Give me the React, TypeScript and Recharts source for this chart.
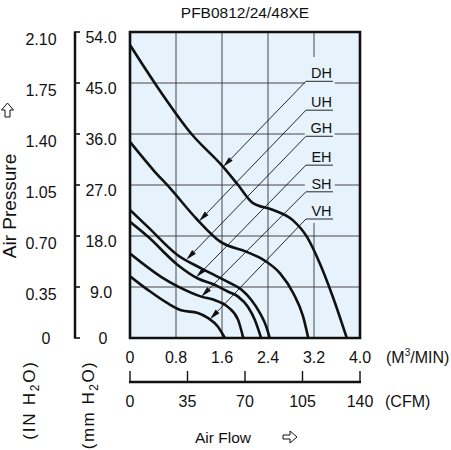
import React from 'react';
import { LineChart, Line, XAxis, YAxis, CartesianGrid, ReferenceArea, ReferenceLine } from 'recharts';

const FONT = '"Liberation Sans", Arial, sans-serif';
const INK = '#111';
const PLOT_BG = '#E7F3FC';

// air flow (m3/min) and static pressure (mm H2O)
const dhFlow = [0, 0.43, 1.07, 1.62, 1.88, 2.14, 2.49, 2.83, 3.08, 3.3, 3.53, 3.77];
const dhPress = [51.7, 45, 36, 30.2, 27, 23.8, 22.6, 20.8, 17.8, 13.2, 7.2, 0];
const uhFlow = [0, 0.41, 0.7, 1.16, 1.57, 2.03, 2.32, 2.61, 2.84, 3.01, 3.1];
const uhPress = [34.6, 29.6, 26.4, 21.0, 17.0, 15.2, 13.8, 11.4, 7.9, 3.8, 0];
const ghFlow = [0, 0.31, 0.83, 1.24, 1.47, 1.7, 1.94, 2.11, 2.26, 2.37, 2.43];
const ghPress = [22.6, 19.6, 14.6, 12.3, 11.1, 9.9, 8.5, 6.7, 4.4, 2.0, 0];
const ehFlow = [0, 0.31, 0.83, 1.18, 1.47, 1.7, 1.88, 2.05, 2.17, 2.28];
const ehPress = [20.5, 17.9, 12.9, 10.5, 9.4, 8.2, 7.3, 5.5, 3.2, 0];
const shFlow = [0, 0.54, 0.83, 1.24, 1.47, 1.7, 1.88, 1.97];
const shPress = [14.9, 10.8, 9.1, 7.3, 6.7, 5.5, 3.2, 0];
const vhFlow = [0, 0.31, 0.66, 0.89, 1.18, 1.36, 1.53, 1.65];
const vhPress = [10.9, 8.5, 6.1, 4.9, 4.4, 3.5, 2.0, 0];

// callouts: label, level of the label (mm H2O), where the arrow lands
const labels = ['DH', 'UH', 'GH', 'EH', 'SH', 'VH'];
const labelLevels = [45.3, 40.2, 35.6, 30.5, 25.8, 21.0];
const tipFlow = [1.62, 1.2, 0.98, 1.15, 1.24, 1.39];
const tipPress = [30.2, 20.6, 13.8, 10.7, 7.3, 3.3];
const labelFrom = 3.06;
const labelTo = 3.53;

const m3Ticks = [0, 0.8, 1.6, 2.4, 3.2, 4.0];
const cfmTicks = [0, 35, 70, 105, 140];
const mmTicks = [0, 9, 18, 27, 36, 45, 54];
const inTicks = [0, 0.35, 0.7, 1.05, 1.4, 1.75, 2.1];

const toPoints = (xs: number[], ys: number[]) => xs.map((x, i) => ({ x, y: ys[i] }));

const curves = [
  toPoints(dhFlow, dhPress),
  toPoints(uhFlow, uhPress),
  toPoints(ghFlow, ghPress),
  toPoints(ehFlow, ehPress),
  toPoints(shFlow, shPress),
  toPoints(vhFlow, vhPress),
];

const txt = { fontFamily: FONT, fill: INK } as const;

const InTick = ({ y, payload }: any) => {
  const v = payload.value;
  return (
    <text x={v === 0 ? 46 : 41} y={y + (v === 0 ? 0 : 7)} dy="0.36em" textAnchor="middle" fontSize={16} {...txt}>
      {v === 0 ? '0' : v.toFixed(2)}
    </text>
  );
};

const MmTick = ({ y, payload }: any) => {
  const v = payload.value;
  return (
    <g>
      <line x1={74} x2={80} y1={y} y2={y} stroke={INK} strokeWidth={1.6} />
      <text x={v === 0 ? 103 : 101} y={y + (v === 0 ? 0 : 5)} dy="0.36em" textAnchor="middle" fontSize={16} {...txt}>
        {v === 0 ? '0' : v.toFixed(1)}
      </text>
    </g>
  );
};

const M3Tick = ({ x, payload }: any) => {
  const v = payload.value;
  return (
    <text x={x} y={363} textAnchor="middle" fontSize={16} {...txt}>
      {v === 0 ? '0' : v.toFixed(1)}
    </text>
  );
};

// the CFM scale has its own baseline under the m3/min labels, ticks pointing up
const CfmTick = ({ x, payload, index, width }: any) => (
  <g>
    {index === 0 && typeof width === 'number' && width > 100 && width < 400 && (
      <line x1={x - 1} x2={x + width + 1} y1={382} y2={382} stroke={INK} strokeWidth={2.5} />
    )}
    <line x1={x} x2={x} y1={382} y2={371} stroke={INK} strokeWidth={1.4} />
    <text x={x} y={407} textAnchor="middle" fontSize={16} {...txt}>
      {payload.value}
    </text>
  </g>
);

const leaderShape = (p: any) => {
  const { x1, y1, x2, y2 } = p;
  const dx = x2 - x1;
  const dy = y2 - y1;
  const len = Math.hypot(dx, dy) || 1;
  const ux = dx / len;
  const uy = dy / len;
  const L = 11;
  const W = 2.6;
  const bx = x2 - ux * L;
  const by = y2 - uy * L;
  const pts = `${x2},${y2} ${bx - uy * W},${by + ux * W} ${bx + uy * W},${by - ux * W}`;
  return (
    <g>
      <line x1={x1} y1={y1} x2={bx} y2={by} stroke={INK} strokeWidth={0.9} />
      <polygon points={pts} fill={INK} />
    </g>
  );
};

const underlineShape = (name: string) => (p: any) => {
  const { x1, y1, x2 } = p;
  return (
    <g>
      <line x1={x1} y1={y1} x2={x2} y2={y1} stroke={INK} strokeWidth={0.9} />
      <text x={(x1 + x2) / 2 + 2} y={y1 - 3} textAnchor="middle" fontSize={14.5} {...txt}>
        {name}
      </text>
    </g>
  );
};

const Overlay = () => (
  <svg width={451} height={450} style={{ position: 'absolute', left: 0, top: 0, pointerEvents: 'none' }}>
    <text x={245} y={18} textAnchor="middle" fontSize={15.5} {...txt}>PFB0812/24/48XE</text>

    <polygon points="7.5,103 13.5,110 10,110 10,117 5,117 5,110 1.5,110" fill="#fff" stroke={INK} strokeWidth={1} />
    <text transform="translate(16,206) rotate(-90)" textAnchor="middle" fontSize={19} {...txt}>Air Pressure</text>

    <text transform="translate(35,400) rotate(-90)" textAnchor="middle" fontSize={17} letterSpacing={1.8} {...txt}>
      (IN H<tspan fontSize={12} dy={4}>2</tspan><tspan dy={-4}>O)</tspan>
    </text>
    <text transform="translate(94,405) rotate(-90)" textAnchor="middle" fontSize={17} letterSpacing={1.5} {...txt}>
      (mm H<tspan fontSize={12} dy={4}>2</tspan><tspan dy={-4}>O)</tspan>
    </text>

    <text x={386} y={363} fontSize={16} {...txt}>
      (M<tspan fontSize={10} dy={-7}>3</tspan><tspan dy={7}>/MIN)</tspan>
    </text>
    <text x={385} y={407} fontSize={16} {...txt}>(CFM)</text>

    <text x={223} y={443} textAnchor="middle" fontSize={15.5} {...txt}>Air Flow</text>
    <polygon points="283,435 290,435 290,431 297,437 290,443 290,439 283,439" fill="#fff" stroke={INK} strokeWidth={1} />
  </svg>
);

export default function App() {
  return (
    <div style={{ position: 'absolute', left: 0, top: 0, width: 451, height: 450, background: '#fff' }}>
      <LineChart width={451} height={450} margin={{ top: 32, right: 91, bottom: 0, left: 0 }}>
        <XAxis
          xAxisId="m3"
          type="number"
          dataKey="x"
          domain={[0, 4]}
          allowDataOverflow
          ticks={m3Ticks}
          interval={0}
          height={44}
          axisLine={false}
          tickLine={false}
          tick={M3Tick}
        />
        <XAxis
          xAxisId="cfm"
          type="number"
          dataKey="x"
          domain={[0, 140]}
          allowDataOverflow
          ticks={cfmTicks}
          interval={0}
          height={68}
          axisLine={false}
          tickLine={false}
          tick={CfmTick}
        />
        <YAxis yAxisId="sp" type="number" domain={[0, 54]} allowDataOverflow width={55} axisLine={false} tickLine={false} tick={false} />
        <YAxis
          yAxisId="mm"
          type="number"
          domain={[0, 54]}
          allowDataOverflow
          ticks={mmTicks}
          interval={0}
          width={20}
          axisLine={{ stroke: INK, strokeWidth: 2.5 }}
          tickLine={false}
          tick={MmTick}
        />
        <YAxis
          yAxisId="in"
          type="number"
          domain={[0, 2.1]}
          allowDataOverflow
          ticks={inTicks}
          interval={0}
          width={55}
          axisLine={false}
          tickLine={false}
          tick={InTick}
        />
        <CartesianGrid xAxisId="m3" yAxisId="mm" stroke="#333" strokeWidth={0.9} fill={PLOT_BG} fillOpacity={1} />
        <ReferenceArea xAxisId="m3" yAxisId="mm" x1={3.04} x2={3.56} y1={20.3} y2={49.6} fill={PLOT_BG} fillOpacity={1} stroke="none" />
        {curves.map((pts, i) => (
          <Line
            key={labels[i]}
            data={pts}
            dataKey="y"
            xAxisId="m3"
            yAxisId="mm"
            type="monotone"
            stroke={INK}
            strokeWidth={2.6}
            dot={false}
            activeDot={false}
            isAnimationActive={false}
          />
        ))}
        {labels.map((name, i) => (
          <ReferenceLine
            key={`u-${name}`}
            xAxisId="m3"
            yAxisId="mm"
            segment={[{ x: labelFrom, y: labelLevels[i] }, { x: labelTo, y: labelLevels[i] }]}
            shape={underlineShape(name)}
          />
        ))}
        {labels.map((name, i) => (
          <ReferenceLine
            key={`l-${name}`}
            xAxisId="m3"
            yAxisId="mm"
            segment={[{ x: labelFrom, y: labelLevels[i] }, { x: tipFlow[i], y: tipPress[i] }]}
            shape={leaderShape}
          />
        ))}
        <ReferenceArea
          xAxisId="m3"
          yAxisId="mm"
          x1={0}
          x2={4}
          y1={0}
          y2={54}
          fill="none"
          stroke={INK}
          strokeWidth={2.6}
          ifOverflow="visible"
        />
      </LineChart>
      <Overlay />
    </div>
  );
}
